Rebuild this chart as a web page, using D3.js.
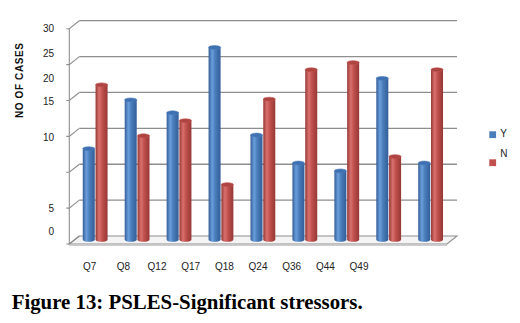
<!DOCTYPE html>
<html>
<head>
<meta charset="utf-8">
<style>
  body { margin: 0; background: #fff; }
  svg { display: block; }
</style>
</head>
<body>
<svg id="chart"></svg>

<script src="https://cdn.jsdelivr.net/npm/d3@7/dist/d3.min.js"></script>

<script>
    var width = 520;
    var height = 323;

    // data
    var categories = ["Q7", "Q8", "Q12", "Q17", "Q18", "Q24", "Q36", "Q44", "Q49"];
    var yesValues = [12.7, 19.5, 17.7, 26.8, 14.6, 10.7, 9.6, 22.5, 10.7];
    var noValues  = [21.6, 14.5, 16.6, 7.7, 19.6, 23.7, 24.7, 11.6, 23.7];
    var seriesNames = ["Y", "N"];
    var gridValues = [0, 5, 10, 15, 20, 25, 30];
    // the labels in the original sit off their gridlines; where each one sits, in axis units
    var tickLabels = ["30", "25", "20", "15", "10", "5", "0"];
    var tickLabelAt = [30, 26.6, 23.1, 19.8, 14.9, 4.9, 1.7];

    var blue = {light: "#6a9edc", mid: "#4a7ebb", dark: "#335d98", top: "#3f70b2"};
    var red  = {light: "#d9716e", mid: "#c0504d", dark: "#963835", top: "#ad4441"};
    var colors = [blue, red];
    var gridColor = "#8e8e8e";
    var textColor = "#222";

    // 3d depth offset of the back wall relative to the front edge
    var depthX = 10;
    var depthY = 8;

    var svg = d3.select("svg#chart")
        .attr("width", width)
        .attr("height", height)
        .attr("viewBox", [0, 0, width, height]);

    // back wall scale
    var y = d3.scaleLinear().domain([0, 30]).range([236, 20.7]);
    var yFront = v => y(v) + depthY;
    var yBar = v => y(v) + 3.8;

    var x = d3.scaleBand().domain(categories).range([74.2, 451.6]);
    var inner = d3.scaleBand().domain(seriesNames).range([-12.4, 12.4]).paddingInner(0.06);
    // category labels in the original are packed tighter than the bars
    var xLabel = d3.scalePoint().domain(categories).range([89.7, 359]);

    var defs = svg.append("defs");
    colors.forEach((c, i) => {
        var g = defs.append("linearGradient")
            .attr("id", "cyl" + i)
            .attr("x1", 0).attr("x2", 1).attr("y1", 0).attr("y2", 0);
        g.append("stop").attr("offset", "0%").attr("stop-color", c.dark);
        g.append("stop").attr("offset", "30%").attr("stop-color", c.light);
        g.append("stop").attr("offset", "55%").attr("stop-color", c.mid);
        g.append("stop").attr("offset", "100%").attr("stop-color", c.dark);
    });

    var xLeft = 69.3;
    var xBackRight = 457;

    // floor
    var floor = svg.append("g");
    floor.append("path")
        .attr("d", `M${xLeft},${yFront(0)} L${xLeft + depthX},${y(0)} L${xBackRight},${y(0)} L${xBackRight - depthX},${yFront(0)} Z`)
        .attr("fill", "#f4f4f4")
        .attr("stroke", gridColor)
        .attr("stroke-width", 1.1);
    floor.append("line")
        .attr("x1", xLeft).attr("x2", xBackRight - depthX)
        .attr("y1", yFront(0) + 1.4).attr("y2", yFront(0) + 1.4)
        .attr("stroke", "#c8c8c8");

    // gridlines on the back wall plus diagonal ticks to the front axis
    var grid = svg.append("g");
    grid.selectAll("line.grid")
        .data(gridValues.slice(1))
        .join("line")
        .attr("class", "grid")
        .attr("x1", xLeft + depthX).attr("x2", xBackRight)
        .attr("y1", d => y(d)).attr("y2", d => y(d))
        .attr("stroke", gridColor)
        .attr("stroke-width", 1.3);
    grid.selectAll("path.tick")
        .data(gridValues)
        .join("path")
        .attr("class", "tick")
        .attr("d", d => `M${xLeft - 3},${yFront(d)} L${xLeft},${yFront(d)} L${xLeft + depthX},${y(d)}`)
        .attr("fill", "none")
        .attr("stroke", gridColor)
        .attr("stroke-width", 1.1);
    grid.append("line")
        .attr("x1", xLeft).attr("x2", xLeft)
        .attr("y1", yFront(30)).attr("y2", yFront(0))
        .attr("stroke", gridColor)
        .attr("stroke-width", 1.1);

    // cylinders
    var rows = categories.map((c, i) => ({cat: c, values: [yesValues[i], noValues[i]]}));
    var ry = 1.9;

    var groups = svg.append("g").selectAll("g")
        .data(rows)
        .join("g")
        .attr("transform", d => `translate(${x(d.cat) + x.bandwidth() / 2},0)`);

    var bars = groups.selectAll("g")
        .data(d => d.values.map((v, i) => ({series: seriesNames[i], i: i, value: v})))
        .join("g");

    bars.append("path")
        .attr("d", d => {
            var x0 = inner(d.series), x1 = x0 + inner.bandwidth();
            var rx = inner.bandwidth() / 2;
            var yt = yBar(d.value), yb = yBar(0);
            return `M${x0},${yt} L${x0},${yb} A${rx},${ry} 0 0 0 ${x1},${yb} L${x1},${yt} Z`;
        })
        .attr("fill", d => `url(#cyl${d.i})`);

    bars.append("ellipse")
        .attr("cx", d => inner(d.series) + inner.bandwidth() / 2)
        .attr("cy", d => yBar(d.value))
        .attr("rx", inner.bandwidth() / 2)
        .attr("ry", ry)
        .attr("fill", d => colors[d.i].top)
        .attr("stroke", d => colors[d.i].mid)
        .attr("stroke-width", 0.6);

    // value axis labels
    svg.append("g").selectAll("text")
        .data(tickLabels)
        .join("text")
        .attr("x", 54)
        .attr("y", (d, i) => yFront(tickLabelAt[i]))
        .attr("dy", "0.35em")
        .attr("text-anchor", "end")
        .attr("font-family", "Liberation Sans, Arial, sans-serif")
        .attr("font-size", 10)
        .attr("fill", textColor)
        .text(d => d);

    svg.append("text")
        .attr("transform", "translate(23.2,80.5) rotate(-90)")
        .attr("text-anchor", "middle")
        .attr("font-family", "Liberation Sans, Arial, sans-serif")
        .attr("font-weight", "bold")
        .attr("font-size", 10)
        .attr("textLength", 75)
        .attr("lengthAdjust", "spacing")
        .attr("fill", "#111")
        .text("NO OF CASES");

    // category labels
    svg.append("g").selectAll("text")
        .data(categories)
        .join("text")
        .attr("x", d => xLabel(d))
        .attr("y", 270)
        .attr("text-anchor", "middle")
        .attr("font-family", "Liberation Sans, Arial, sans-serif")
        .attr("font-size", 10)
        .attr("fill", textColor)
        .text(d => d);

    // legend
    var legendY = d3.scalePoint().domain(seriesNames).range([134.7, 162.7]);
    var legendTextDy = [-1.2, -9.5];
    var legend = svg.append("g").selectAll("g")
        .data(seriesNames)
        .join("g")
        .attr("transform", d => `translate(489.3,${legendY(d)})`);
    legend.append("rect")
        .attr("x", 0).attr("y", -3.4)
        .attr("width", 6.8).attr("height", 6.8)
        .attr("fill", (d, i) => colors[i].mid);
    legend.append("text")
        .attr("x", 11)
        .attr("y", (d, i) => legendTextDy[i])
        .attr("dy", "0.35em")
        .attr("font-family", "Liberation Sans, Arial, sans-serif")
        .attr("font-size", 10)
        .attr("fill", textColor)
        .text(d => d);

    // caption
    svg.append("text")
        .attr("x", 11.7)
        .attr("y", 309)
        .attr("font-family", "Liberation Serif, Times New Roman, serif")
        .attr("font-weight", "bold")
        .attr("font-size", 20.5)
        .attr("textLength", 351)
        .attr("lengthAdjust", "spacingAndGlyphs")
        .attr("fill", "#000")
        .text("Figure 13: PSLES-Significant stressors.");
</script>
</body>
</html>
